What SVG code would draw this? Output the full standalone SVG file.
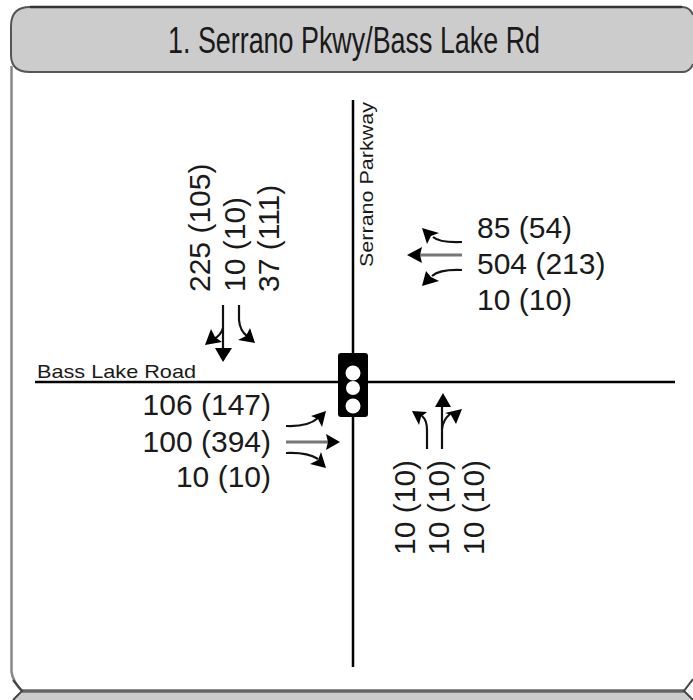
<svg xmlns="http://www.w3.org/2000/svg" width="693" height="700" viewBox="0 0 693 700">
<style>
text{font-family:"Liberation Sans",Arial,sans-serif;fill:#1a1a1a}
.n{font-size:30px}
.s{font-size:19px}
.m{stroke:#111;stroke-width:2.2;fill:none}
.t{stroke:#777;stroke-width:3;fill:none}
.h{fill:#000;stroke:none}
</style>
<rect width="693" height="700" fill="#fff"/>
<g id="panel">
<path d="M11.500 66V672Q13 682 22 691" fill="none" stroke="#888" stroke-width="2.500"/>
<path d="M693 15Q690 7 682 7H30Q11 7 11 26V55Q11 72 30 72H682Q690 72 693 64Z" fill="#ccc"/>
<path d="M693 15Q690 7 682 7H30Q11 7 11 26V55Q11 72 30 72H682Q690 72 693 64" fill="none" stroke="#555" stroke-width="2"/>
<path d="M30 7H682" fill="none" stroke="#333" stroke-width="2.500"/>
<path d="M22 691L13 700H693L684 691Z" fill="#ccc"/>
<path d="M22 691H684" fill="none" stroke="#666" stroke-width="3.500"/>
<path d="M13 700L22 691L13 680M693 679L684 691L693 700" fill="none" stroke="#444" stroke-width="2"/>
</g>
<g id="title"><text x="168" y="53" font-size="37" textLength="372" lengthAdjust="spacingAndGlyphs">1. Serrano Pkwy/Bass Lake Rd</text></g>
<g id="connectors">
<path d="M35 382H675" stroke="#000" stroke-width="2.500"/>
<path d="M353 100V667" stroke="#000" stroke-width="2.500"/>
<path class="m" d="M223 305V350"/><path class="h" d="M215 348H232L223 362Z"/>
<path class="m" d="M239 305V320Q240 331 247 336"/><path class="h" d="M255 343L238 340L246 336L250 328Z"/>
<path class="m" d="M223 328Q221 335 214 339"/><path class="h" d="M205 345L211 329L215 337L222 342Z"/>
<path class="m" d="M286 426Q308 427 318 418"/><path class="h" d="M326 411L322 427L318 419L311 416Z"/>
<path class="t" d="M286 442H328"/><path class="h" d="M340 442L326 434L328 442L326 450Z"/>
<path class="m" d="M286 453Q307 452 318 459"/><path class="h" d="M326 468L310 464L318 460L321 452Z"/>
<path class="m" d="M462 242Q440 243 433 237"/><path class="h" d="M422 228L439 233L431 236L427 244Z"/>
<path class="t" d="M462 255H420"/><path class="h" d="M407 255L422 247L420 255L422 263Z"/>
<path class="m" d="M462 270Q440 269 432 276"/><path class="h" d="M422 286L426 271L431 277L439 281Z"/>
<path class="m" d="M427 449V430Q427 420 422 416"/><path class="h" d="M412 411L427 412L421 417L419 425Z"/>
<path class="m" d="M442 449V405"/><path class="h" d="M435 407L443 393L451 407Z"/>
<path class="m" d="M442 429Q443 420 450 414"/><path class="h" d="M462 409L456 424L451 415L445 413Z"/>
</g>
<g id="signal">
<rect x="338" y="353" width="30" height="64" rx="3" fill="#000"/>
<circle cx="353" cy="373" r="7.500" fill="#fff"/><circle cx="353" cy="388" r="7" fill="#fff"/><circle cx="353" cy="406" r="7.500" fill="#fff"/>
</g>
<g id="labels">
<text class="s" x="37" y="378" textLength="159" lengthAdjust="spacingAndGlyphs">Bass Lake Road</text>
<text class="s" transform="translate(373,267) rotate(-90)" textLength="165" lengthAdjust="spacingAndGlyphs">Serrano Parkway</text>
<g class="n">
<text x="271" y="415" text-anchor="end">106 (147)</text>
<text x="271" y="452" text-anchor="end">100 (394)</text>
<text x="271" y="487" text-anchor="end">10 (10)</text>
<text x="477" y="238">85 (54)</text>
<text x="477" y="274">504 (213)</text>
<text x="477" y="310">10 (10)</text>
<text transform="translate(210,292) rotate(-90)">225 (105)</text>
<text transform="translate(245,292) rotate(-90)">10 (10)</text>
<text transform="translate(279,292) rotate(-90)">37 (111)</text>
<text transform="translate(415,555) rotate(-90)">10 (10)</text>
<text transform="translate(449,555) rotate(-90)">10 (10)</text>
<text transform="translate(484,555) rotate(-90)">10 (10)</text>
</g>
</g>
</svg>
